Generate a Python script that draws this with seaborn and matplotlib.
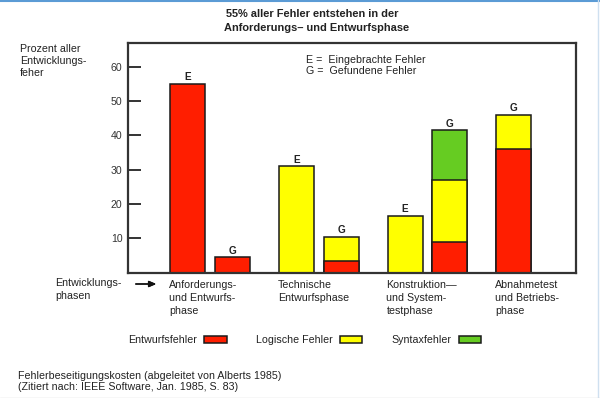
import numpy as np
import pandas as pd
import matplotlib
matplotlib.use("Agg")
import matplotlib.pyplot as plt
from matplotlib.lines import Line2D
import seaborn as sns

# ============= Data =============
phases = [
    "Anforderungs-\nund Entwurfs-\nphase",
    "Technische\nEntwurfsphase",
    "Konstruktion—\nund System-\ntestphase",
    "Abnahmetest\nund Betriebs-\nphase",
]
bar_phase = [0, 0, 1, 1, 2, 2, 3]
bar_kind = ["E", "G", "E", "G", "E", "G", "G"]
entwurfsfehler = [55, 4.5, 0, 3.5, 0, 9, 36]
logische_fehler = [0, 0, 31, 7, 16.5, 18, 10]
syntaxfehler = [0, 0, 0, 0, 0, 14.5, 0]

error_types = ["Entwurfsfehler", "Logische Fehler", "Syntaxfehler"]
colors = {"Entwurfsfehler": "#ff1e00", "Logische Fehler": "#ffff00", "Syntaxfehler": "#66cc22"}
yticks = [10, 20, 30, 40, 50, 60]

# ============= Layout =============
G_OFFSET = 0.413      # distance of second bar inside a phase
BAR_W = 0.3226        # bar width in phase units
TXT = "#222222"
FS = 7.7

# bar positions: first bar of a phase sits on the phase slot, second one is shifted
bar_x = []
seen = {}
for p in bar_phase:
    slot = seen.get(p, 0)
    bar_x.append(p + slot * G_OFFSET)
    seen[p] = slot + 1
bar_x = np.array(bar_x)

# stacked bars drawn as overlaid cumulative heights
segments = np.array([entwurfsfehler, logische_fehler, syntaxfehler])
cum = np.cumsum(segments, axis=0)
rows = []
for k, name in enumerate(error_types):
    for i in range(len(bar_x)):
        if segments[k, i] > 0:
            rows.append({"x": bar_x[i], "h": cum[k, i], "typ": name})
df = pd.DataFrame(rows)

sns.set_theme(style="white")
plt.rcParams["font.family"] = ["Liberation Sans", "DejaVu Sans"]

fig = plt.figure(figsize=(6, 3.98), dpi=100)
ax = fig.add_axes([128 / 600, 1 - 272.7 / 398, (576 - 128) / 600, (272.7 - 42.7) / 398])

native_step = np.min(np.diff(np.unique(df["x"])))
sns.barplot(data=df, x="x", y="h", hue="typ", hue_order=error_types[::-1],
            palette=colors, saturation=1, native_scale=True, dodge=False, errorbar=None,
            width=BAR_W / native_step, edgecolor="#1a1a1a", linewidth=1.1, ax=ax)

totals = cum[-1]
for x, t, k in zip(bar_x, totals, bar_kind):
    ax.annotate(k, (x, t), xytext=(0, 1.2), textcoords="offset points",
                ha="center", va="bottom", fontsize=7.2, fontweight="bold", color=TXT)

ax.set_xlim(-0.552, 3.574)
ax.set_ylim(0, 67)
ax.set_xticks([])
ax.set_yticks(yticks)
ax.set_yticklabels([str(v) for v in yticks], color="#333333", fontsize=7.6)
ax.tick_params(axis="y", direction="in", length=9.5, width=1.4, color="#333333",
               pad=4, left=True)
ax.set_xlabel("")
ax.set_ylabel("")
for s in ax.spines.values():
    s.set_color("#333333")
    s.set_linewidth(1.6)

# legend below the plot, label before the colour box
handles, labels = ax.get_legend_handles_labels()
order = [labels.index(n) for n in error_types]
ax.get_legend().remove()
fig.legend([handles[i] for i in order], [labels[i] for i in order],
           loc="center left", bbox_to_anchor=(128 / 600, 1 - 340 / 398),
           ncol=3, frameon=False, markerfirst=False, fontsize=FS,
           handlelength=2.1, handleheight=0.7, handletextpad=0.7,
           columnspacing=2.7, borderpad=0, borderaxespad=0, labelcolor=TXT)

# texts
fig.text(312 / 600, 1 - 14 / 398, "55% aller Fehler entstehen in der", ha="center",
         va="center", fontsize=7.9, fontweight="bold", color=TXT)
fig.text(317 / 600, 1 - 28 / 398, "Anforderungs– und Entwurfsphase", ha="center",
         va="center", fontsize=7.9, fontweight="bold", color=TXT)
fig.text(20 / 600, 1 - 61 / 398, "Prozent aller\nEntwicklungs-\nfeher", ha="left",
         va="center", fontsize=FS, linespacing=1.3, color=TXT)
fig.text(306 / 600, 1 - 60 / 398, "E =  Eingebrachte Fehler", ha="left",
         va="center", fontsize=FS, color=TXT)
fig.text(306 / 600, 1 - 70.5 / 398, "G =  Gefundene Fehler", ha="left",
         va="center", fontsize=FS, color=TXT)

# phase labels under the axis, left aligned on the first bar of each phase
for p, lab in enumerate(phases):
    first = bar_x[bar_phase.index(p)] - BAR_W / 2
    ax.text(first - 0.01, -2.2, lab, ha="left", va="top", fontsize=FS, linespacing=1.38,
            color=TXT, transform=ax.transData, clip_on=False)
fig.text(55 / 600, 1 - 277.8 / 398, "Entwicklungs-\nphasen", ha="left", va="top",
         fontsize=FS, linespacing=1.38, color=TXT)
fig.add_artist(plt.annotate("", xy=(159 / 600, 1 - 284 / 398), xytext=(133 / 600, 1 - 284 / 398),
                            xycoords="figure fraction", textcoords="figure fraction",
                            arrowprops=dict(arrowstyle="-|>,head_length=0.35,head_width=0.15",
                                            color="#111111", lw=1.0)))

fig.text(18 / 600, 1 - 375.7 / 398, "Fehlerbeseitigungskosten (abgeleitet von Alberts 1985)",
         ha="left", va="center", fontsize=FS, color=TXT)
fig.text(18 / 600, 1 - 387 / 398, "(Zitiert nach: IEEE Software, Jan. 1985, S. 83)",
         ha="left", va="center", fontsize=FS, color=TXT)

# slide frame
fig.add_artist(Line2D([0, 1], [1 - 1 / 398, 1 - 1 / 398], color="#5b9bd5", lw=1.5))
fig.add_artist(Line2D([598 / 600, 598 / 600], [0, 1], color="#cfe0f0", lw=1.0))
fig.add_artist(Line2D([0, 1], [0.5 / 398, 0.5 / 398], color="#d8d8d8", lw=1.0))

fig.savefig("out.png", dpi=100)
